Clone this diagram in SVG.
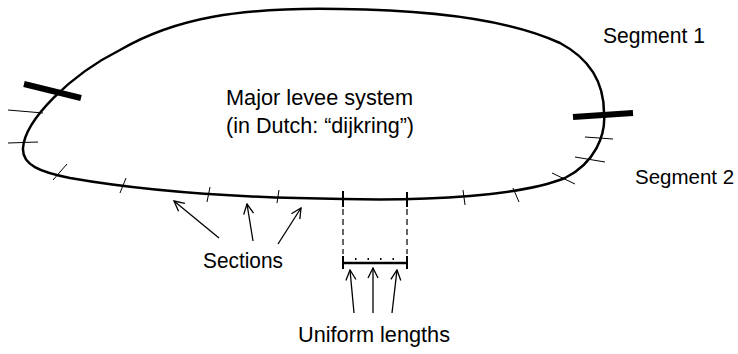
<svg xmlns="http://www.w3.org/2000/svg" width="738" height="354" viewBox="0 0 738 354">
<defs>
<style>
.lbl{font-family:"Liberation Sans",Arial,sans-serif;font-size:21.5px;fill:#000}
.thin{stroke:#000;stroke-width:1;fill:none}
.bold{stroke:#000;stroke-width:6;fill:none}
.mid{stroke:#000;stroke-width:2;fill:none}
.dash{stroke:#000;stroke-width:1.2;stroke-dasharray:6 4;fill:none}
.arr{stroke:#000;stroke-width:1.3;fill:none;marker-end:url(#ah)}
</style>
<marker id="ah" viewBox="0 0 12 12" refX="11" refY="6" markerWidth="12" markerHeight="12" markerUnits="userSpaceOnUse" orient="auto">
<path d="M1,1 L11,6 L1,11" fill="none" stroke="#000" stroke-width="1.3"/>
</marker>
</defs>
<g id="levee-system">
<path d="M343,199 C430,201 520,196 565,178 C595,163 606,135 604,113 C604,85 592,60 560,43 C510,20 430,10 340,9 C240,7 175,18 120,50 C70,75 25,120 23,148 C22,165 40,172 70,178 C150,192 250,198 343,199 Z" fill="none" stroke="#000" stroke-width="2.5"/>
<text class="lbl" x="226" y="105" textLength="187" lengthAdjust="spacingAndGlyphs">Major levee system</text>
<text class="lbl" x="226" y="133" textLength="188" lengthAdjust="spacingAndGlyphs">(in Dutch: “dijkring”)</text>
</g>
<g id="segment-boundaries">
<line class="bold" x1="24" y1="84" x2="81" y2="98"/>
<line class="bold" x1="573" y1="117" x2="633" y2="113"/>
</g>
<g id="section-ticks">
<line class="thin" x1="8" y1="110" x2="43" y2="113"/>
<line class="thin" x1="8" y1="143" x2="38" y2="142"/>
<line class="thin" x1="53" y1="180" x2="67" y2="164"/>
<line class="thin" x1="120" y1="193" x2="126" y2="178"/>
<line class="thin" x1="207" y1="202" x2="210" y2="187"/>
<line class="thin" x1="277" y1="203" x2="279" y2="190"/>
<line class="thin" x1="463" y1="190" x2="465" y2="205"/>
<line class="thin" x1="513" y1="188" x2="519" y2="202"/>
<line class="thin" x1="552" y1="173" x2="575" y2="184"/>
<line class="thin" x1="575" y1="157" x2="605" y2="162"/>
<line class="thin" x1="585" y1="137" x2="613" y2="139"/>
</g>
<g id="segment-1">
<text class="lbl" x="603" y="43" textLength="102" lengthAdjust="spacingAndGlyphs">Segment 1</text>
</g>
<g id="segment-2">
<text class="lbl" x="635" y="184" style="font-size:20.5px">Segment 2</text>
</g>
<g id="uniform-length-detail">
<line class="mid" x1="343" y1="191" x2="343" y2="207"/>
<line class="mid" x1="407" y1="192" x2="407" y2="207"/>
<line class="dash" x1="343" y1="209" x2="343" y2="254"/>
<line class="dash" x1="407" y1="209" x2="407" y2="254"/>
<line stroke="#000" stroke-width="2.5" x1="343" y1="263" x2="407" y2="263"/>
<line class="mid" x1="343" y1="256" x2="343" y2="269"/>
<line class="mid" x1="407" y1="256" x2="407" y2="269"/>
<g fill="#000">
<rect x="355" y="258" width="1.5" height="2"/>
<rect x="367.5" y="258" width="1.5" height="2"/>
<rect x="380" y="258" width="1.5" height="2"/>
<rect x="392.5" y="258" width="1.5" height="2"/>
</g>
</g>
<g id="sections">
<text class="lbl" x="203" y="268" textLength="80" lengthAdjust="spacingAndGlyphs">Sections</text>
</g>
<g id="uniform-lengths">
<text class="lbl" x="298" y="342" textLength="152" lengthAdjust="spacingAndGlyphs">Uniform lengths</text>
</g>
<g id="connectors">
<line class="arr" x1="219" y1="238" x2="174" y2="201"/>
<line class="arr" x1="253" y1="241" x2="247" y2="204"/>
<line class="arr" x1="278" y1="244" x2="301" y2="208"/>
<line class="arr" x1="354" y1="313" x2="350" y2="270"/>
<line class="arr" x1="373" y1="313" x2="373" y2="268"/>
<line class="arr" x1="392" y1="313" x2="397" y2="270"/>
</g>
</svg>
